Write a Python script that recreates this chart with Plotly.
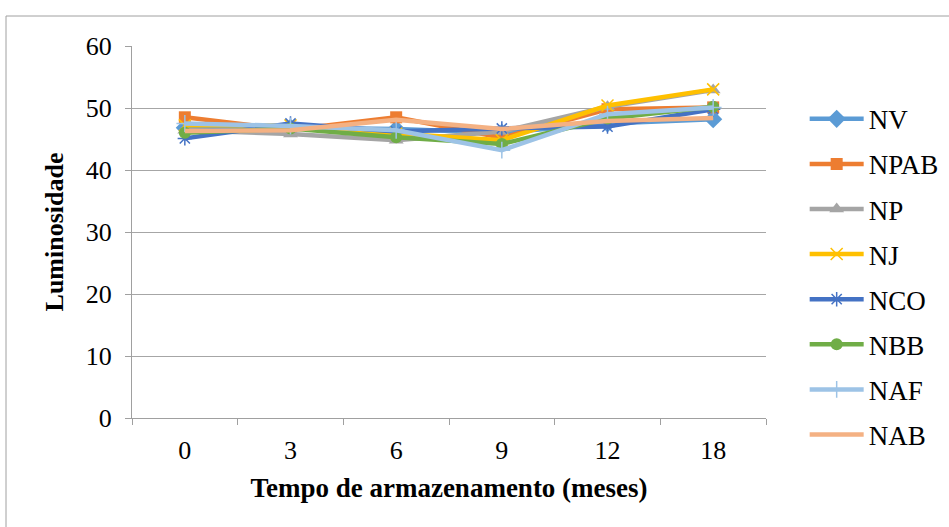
import plotly.graph_objects as go

categories = ["0", "3", "6", "9", "12", "18"]

NV   = [46.8, 46.8, 46.6, 46.0, 47.5, 48.2]
NPAB = [48.5, 46.5, 48.5, 45.2, 49.8, 50.1]
NP   = [46.4, 45.8, 44.8, 46.2, 50.2, 52.9]
NJ   = [47.2, 47.2, 45.9, 44.8, 50.4, 53.0]
NCO  = [45.1, 47.5, 46.2, 46.7, 47.0, 49.8]
NBB  = [46.0, 46.7, 45.3, 44.2, 48.3, 50.2]
NAF  = [47.5, 47.1, 46.4, 43.2, 49.0, 50.1]
NAB  = [46.3, 46.4, 48.1, 46.6, 47.9, 48.4]

series = [
    ("NV", NV, "#5B9BD5", "diamond", 14),
    ("NPAB", NPAB, "#ED7D31", "square", 12),
    ("NP", NP, "#A5A5A5", "triangle-up", 13),
    ("NJ", NJ, "#FFC000", "x-thin", 12),
    ("NCO", NCO, "#4472C4", "asterisk", 12),
    ("NBB", NBB, "#70AD47", "circle", 12),
    ("NAF", NAF, "#9DC3E6", "cross-thin", 12),
    ("NAB", NAB, "#F4B183", None, 0),
]

fig = go.Figure()
for name, vals, color, sym, size in series:
    if sym is None:
        marker = dict(size=1, opacity=0)
        mode = "lines"
    else:
        marker = dict(symbol=sym, size=size, color=color,
                      line=dict(color=color, width=1.5 if "thin" in sym or sym == "asterisk" else 0))
        mode = "lines+markers"
    fig.add_trace(go.Scatter(
        x=categories, y=vals, name=name, mode=mode,
        line=dict(color=color, width=4.5),
        marker=marker, legendgroup=name,
    ))

fig.add_shape(type="rect", xref="paper", yref="paper",
              x0=(6 - 132) / 634, x1=1.5, y0=-0.5, y1=(418 - 16) / 372,
              line=dict(color="#A0A0A0", width=1), fillcolor="rgba(0,0,0,0)", layer="below")

font_family = "Liberation Serif, Times New Roman, serif"
fig.update_layout(
    width=949, height=527,
    margin=dict(l=132, r=183, t=46, b=109, autoexpand=False),
    paper_bgcolor="white", plot_bgcolor="white",
    font=dict(family=font_family, size=26, color="black"),
    showlegend=True,
    legend=dict(x=1.061, y=0.869, xanchor="left", yanchor="top",
                font=dict(family=font_family, size=27, color="black"),
                tracegroupgap=7, itemwidth=54, maxheight=600,
                bgcolor="rgba(0,0,0,0)"),
    xaxis=dict(type="category", range=[-0.5, 5.5], tickson="boundaries",
               ticks="outside", ticklen=6, tickcolor="#A0A0A0",
               showline=True, linecolor="#A0A0A0", linewidth=1,
               showgrid=False, zeroline=False, ticklabelstandoff=9,
               tickfont=dict(size=26), automargin=False,
               title=dict(text="<b>Tempo de armazenamento (meses)</b>",
                          font=dict(size=27), standoff=13)),
    yaxis=dict(range=[0, 60], dtick=10, tick0=0,
               ticks="outside", ticklen=6, tickcolor="#A0A0A0",
               showline=True, linecolor="#A0A0A0", linewidth=1,
               showgrid=True, gridcolor="#A6A6A6", gridwidth=1,
               zeroline=False, ticklabelstandoff=8,
               tickfont=dict(size=26), automargin=False,
               title=dict(text="<b>Luminosidade</b>", font=dict(size=26), standoff=14)),
)

fig.write_html("out.html")
